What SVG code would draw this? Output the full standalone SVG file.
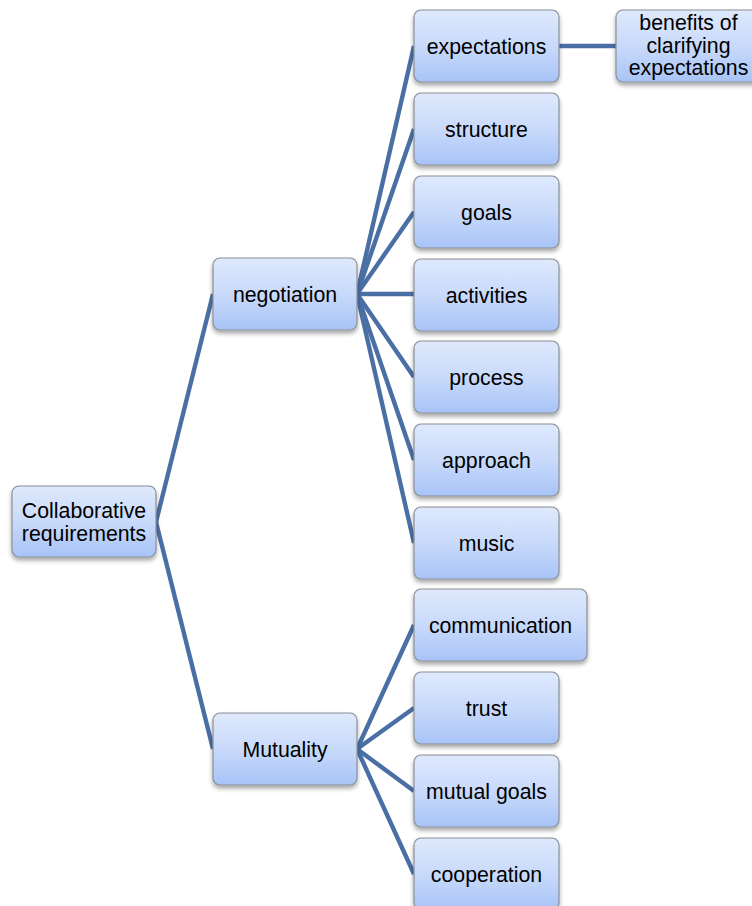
<svg xmlns="http://www.w3.org/2000/svg" width="752" height="906" viewBox="0 0 752 906">
  <defs>
    <linearGradient id="boxFill" x1="0" y1="0" x2="0" y2="1">
      <stop offset="0" stop-color="#dfe9fc"/>
      <stop offset="0.55" stop-color="#c6d8fa"/>
      <stop offset="1" stop-color="#a7c3f6"/>
    </linearGradient>
    <filter id="shadow" x="-10%" y="-10%" width="125%" height="135%">
      <feDropShadow dx="0" dy="3" stdDeviation="2.2" flood-color="#000" flood-opacity="0.35"/>
    </filter>
  </defs>
  <style>
    .box { fill: url(#boxFill); stroke: #8b8f96; stroke-width: 1.2; filter: url(#shadow); }
    .lbl { font-family: "Liberation Sans", Arial, sans-serif; font-size: 21.3px; fill: #000; text-anchor: middle; }
    .link { stroke: #4a6fa5; stroke-width: 4.4; fill: none; stroke-linecap: butt; }
  </style>
  <rect width="752" height="906" fill="#fff"/>

  <!-- connectors -->
  <g id="connectors">
    <path class="link" d="M156 522 L213 294"/>
    <path class="link" d="M156 522 L213 749"/>
    <path class="link" d="M357 294 L414 46"/>
    <path class="link" d="M357 294 L414 129"/>
    <path class="link" d="M357 294 L414 212"/>
    <path class="link" d="M357 294 L414 294"/>
    <path class="link" d="M357 294 L414 377"/>
    <path class="link" d="M357 294 L414 460"/>
    <path class="link" d="M357 294 L414 543"/>
    <path class="link" d="M357 749 L414 625"/>
    <path class="link" d="M357 749 L414 708"/>
    <path class="link" d="M357 749 L414 791"/>
    <path class="link" d="M357 749 L414 874"/>
    <path class="link" d="M559 46 L616 46"/>
  </g>

  <g id="root">
    <rect class="box" x="12" y="486" width="144" height="71" rx="7"/>
    <text class="lbl" x="84" y="518">Collaborative</text>
    <text class="lbl" x="84" y="541">requirements</text>
  </g>

  <g id="negotiation">
    <rect class="box" x="213" y="258" width="144" height="72" rx="7"/>
    <text class="lbl" x="285" y="302">negotiation</text>
  </g>
  <g id="mutuality">
    <rect class="box" x="213" y="713" width="144" height="72" rx="7"/>
    <text class="lbl" x="285" y="757">Mutuality</text>
  </g>

  <g id="expectations">
    <rect class="box" x="414" y="10" width="145" height="72" rx="7"/>
    <text class="lbl" x="486.5" y="54">expectations</text>
  </g>
  <g id="benefits">
    <rect class="box" x="616" y="10" width="145" height="72" rx="7"/>
    <text class="lbl" x="688.5" y="30">benefits of</text>
    <text class="lbl" x="688.5" y="53">clarifying</text>
    <text class="lbl" x="688.5" y="75">expectations</text>
  </g>
  <g id="structure">
    <rect class="box" x="414" y="93" width="145" height="72" rx="7"/>
    <text class="lbl" x="486.5" y="137">structure</text>
  </g>
  <g id="goals">
    <rect class="box" x="414" y="176" width="145" height="72" rx="7"/>
    <text class="lbl" x="486.5" y="220">goals</text>
  </g>
  <g id="activities">
    <rect class="box" x="414" y="259" width="145" height="72" rx="7"/>
    <text class="lbl" x="486.5" y="303">activities</text>
  </g>
  <g id="process">
    <rect class="box" x="414" y="341" width="145" height="72" rx="7"/>
    <text class="lbl" x="486.5" y="385">process</text>
  </g>
  <g id="approach">
    <rect class="box" x="414" y="424" width="145" height="72" rx="7"/>
    <text class="lbl" x="486.5" y="468">approach</text>
  </g>
  <g id="music">
    <rect class="box" x="414" y="507" width="145" height="72" rx="7"/>
    <text class="lbl" x="486.5" y="551">music</text>
  </g>

  <g id="communication">
    <rect class="box" x="414" y="589" width="173" height="72" rx="7"/>
    <text class="lbl" x="500.5" y="633">communication</text>
  </g>
  <g id="trust">
    <rect class="box" x="414" y="672" width="145" height="72" rx="7"/>
    <text class="lbl" x="486.5" y="716">trust</text>
  </g>
  <g id="mutual-goals">
    <rect class="box" x="414" y="755" width="145" height="72" rx="7"/>
    <text class="lbl" x="486.5" y="799">mutual goals</text>
  </g>
  <g id="cooperation">
    <rect class="box" x="414" y="838" width="145" height="72" rx="7"/>
    <text class="lbl" x="486.5" y="882">cooperation</text>
  </g>
</svg>
